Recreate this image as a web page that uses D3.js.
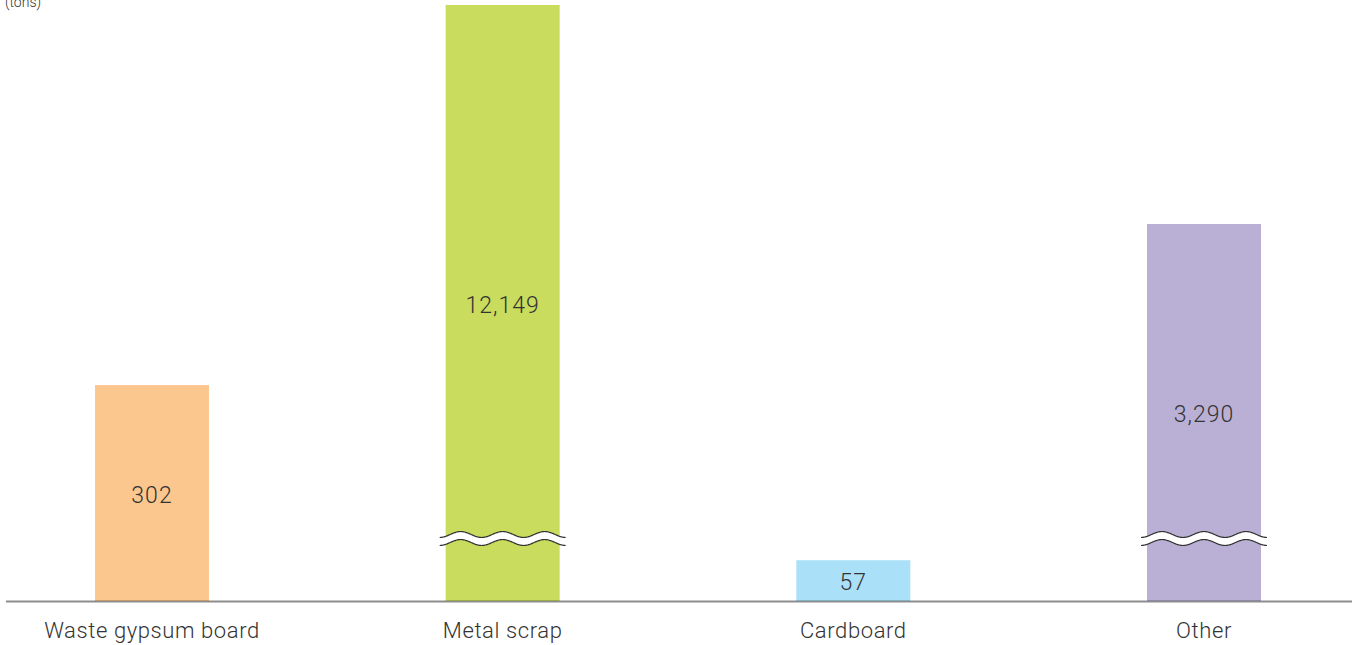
<!DOCTYPE html>
<html>
<head>
<meta charset="utf-8">
<script src="https://cdn.jsdelivr.net/npm/d3@7"></script>
<style>
  body { margin: 0; background: #fff; }
  text { font-family: Roboto, "Noto Sans", sans-serif; font-weight: 300; fill: #333; }
</style>
</head>
<body>
<div class="chart"></div>
<script>
// waste recycled, in tons
const categories = ["Waste gypsum board", "Metal scrap", "Cardboard", "Other"];
const values = [302, 12149, 57, 3290];
const colors = ["#fcc78f", "#c9dc5e", "#abe0f9", "#bab0d6"];
const broken = [false, true, false, true];
const unitLabel = "(tons)";

const width = 1359;
const height = 645;
const baseY = 601;

const svg = d3
  .select(".chart")
  .append("svg")
  .attr("width", width)
  .attr("height", height);

const x = d3.scalePoint()
  .domain(categories)
  .range([152, 1204]);
const barW = 114;

// broken value axis: linear up to 500 t, then compressed above the break
const y = d3.scaleLinear()
  .domain([0, 500, 3290, 12149])
  .range([baseY, baseY - 500 * 0.715, 224, 5]);

const data = categories.map((c, i) => ({
  name: c, value: values[i], color: colors[i], broken: broken[i]
}));

svg
  .selectAll("rect.bar")
  .data(data)
  .enter()
  .append("rect")
  .attr("class", "bar")
  .attr("x", (d) => x(d.name) - barW / 2)
  .attr("y", (d) => y(d.value))
  .attr("width", barW)
  .attr("height", (d) => baseY - y(d.value))
  .attr("fill", (d) => d.color);

// wavy break marks
const breakY = 538.5;
const period = 42;
const amp = 3;
function wave(x0, x1, off) {
  const pts = [];
  for (let px = x0; px <= x1; px += 1) {
    pts.push([px, breakY + off + amp * Math.cos(2 * Math.PI * (px - x0) / period)]);
  }
  return pts;
}
const line = d3.line().curve(d3.curveBasis);

const brk = svg
  .selectAll("g.break")
  .data(data.filter((d) => d.broken))
  .enter()
  .append("g")
  .attr("class", "break");

brk.append("path")
  .attr("d", (d) => {
    const x0 = x(d.name) - barW / 2 - 6, x1 = x(d.name) + barW / 2 + 6;
    const top = wave(x0, x1, -4);
    const bot = wave(x0, x1, 4).reverse();
    return line(top) + "L" + bot.map((p) => p.join(",")).join("L") + "Z";
  })
  .attr("fill", "#fff");

[-4, 4].forEach((off) => {
  brk.append("path")
    .attr("d", (d) => line(wave(x(d.name) - barW / 2 - 6, x(d.name) + barW / 2 + 6, off)))
    .attr("fill", "none")
    .attr("stroke", "#333")
    .attr("stroke-width", 1.2);
});

// value labels in the middle of each bar
svg
  .selectAll("text.value")
  .data(data)
  .enter()
  .append("text")
  .attr("class", "value")
  .attr("x", (d) => x(d.name))
  .attr("y", (d) => (y(d.value) + baseY) / 2)
  .attr("dy", "0.42em")
  .attr("text-anchor", "middle")
  .attr("font-size", 23)
  .attr("letter-spacing", 1)
  .text((d) => d3.format(",")(d.value));

// baseline
svg.append("line")
  .attr("x1", 6)
  .attr("x2", 1352)
  .attr("y1", baseY + 0.5)
  .attr("y2", baseY + 0.5)
  .attr("stroke", "#000")
  .attr("stroke-opacity", 0.45)
  .attr("stroke-width", 2);

// category labels
svg
  .selectAll("text.cat")
  .data(data)
  .enter()
  .append("text")
  .attr("class", "cat")
  .attr("x", (d) => x(d.name))
  .attr("y", 638)
  .attr("text-anchor", "middle")
  .attr("font-size", 22)
  .attr("letter-spacing", 0.6)
  .text((d) => d.name);

svg.append("text")
  .attr("x", 5)
  .attr("y", 7)
  .attr("font-size", 14)
  .text(unitLabel);
</script>
</body>
</html>
